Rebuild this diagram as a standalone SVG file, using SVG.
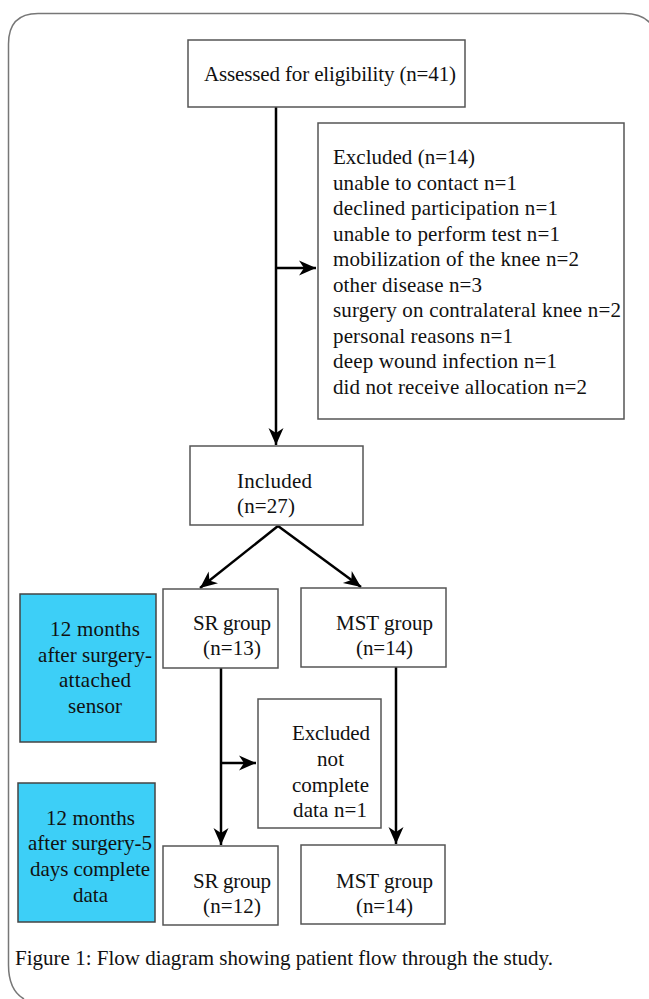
<svg xmlns="http://www.w3.org/2000/svg" width="649" height="999" viewBox="0 0 649 999">
<style>
.box{fill:#fff;stroke:#555;stroke-width:1.5}
.blue{fill:#3dcff7;stroke:#444;stroke-width:1.5}
.t{font-family:"Liberation Serif","Times New Roman",serif;font-size:21px;fill:#111}
.ln{stroke:#000;stroke-width:2.5;fill:none}
</style>
<defs>
<marker id="ah" markerUnits="userSpaceOnUse" markerWidth="20" markerHeight="20" viewBox="-18 -9 20 18" refX="0" refY="0" orient="auto">
<path d="M0,0 L-17,-7.5 L-12,0 L-17,7.5 Z" fill="#000"/>
</marker>
</defs>
<rect width="649" height="999" fill="#fff"/>
<path d="M24,999 Q8.5,990 8.5,965 L8.5,44 Q8.5,13.5 38,13.5 L624,13.5 Q650,13.5 656,34" fill="none" stroke="#777" stroke-width="1.5"/>
<g id="connectors">
<line class="ln" x1="276" y1="107" x2="276" y2="445" marker-end="url(#ah)"/>
<line class="ln" x1="276" y1="268" x2="316" y2="268" marker-end="url(#ah)"/>
<line class="ln" x1="278" y1="526" x2="200" y2="588" marker-end="url(#ah)"/>
<line class="ln" x1="278" y1="526" x2="361" y2="587" marker-end="url(#ah)"/>
<line class="ln" x1="221" y1="668" x2="221" y2="845" marker-end="url(#ah)"/>
<line class="ln" x1="221" y1="763" x2="256" y2="763" marker-end="url(#ah)"/>
<line class="ln" x1="396" y1="667" x2="396" y2="844" marker-end="url(#ah)"/>
</g>
<g id="assessed">
<rect class="box" x="188" y="40" width="277" height="67"/>
<text class="t" x="204" y="81" textLength="252">Assessed for eligibility (n=41)</text>
</g>
<g id="excluded1">
<rect class="box" x="318" y="123" width="306" height="296"/>
<text class="t" x="333" y="164" textLength="142">Excluded (n=14)</text>
<text class="t" x="333" y="189.5" textLength="184">unable to contact n=1</text>
<text class="t" x="333" y="215" textLength="225">declined participation n=1</text>
<text class="t" x="333" y="240.5" textLength="227">unable to perform test n=1</text>
<text class="t" x="333" y="266" textLength="246">mobilization of the knee n=2</text>
<text class="t" x="333" y="291.5" textLength="149">other disease n=3</text>
<text class="t" x="333" y="317" textLength="288">surgery on contralateral knee n=2</text>
<text class="t" x="333" y="342.5" textLength="180">personal reasons n=1</text>
<text class="t" x="333" y="368" textLength="224">deep wound infection n=1</text>
<text class="t" x="333" y="393.5" textLength="254">did not receive allocation n=2</text>
</g>
<g id="included">
<rect class="box" x="190" y="446" width="173" height="79"/>
<text class="t" x="237" y="488" textLength="75">Included</text>
<text class="t" x="237" y="513" textLength="58">(n=27)</text>
</g>
<g id="sr1">
<rect class="box" x="163" y="589" width="115" height="79"/>
<text class="t" x="193" y="630" textLength="78">SR group</text>
<text class="t" x="203" y="655" textLength="58">(n=13)</text>
</g>
<g id="mst1">
<rect class="box" x="301" y="588" width="145" height="79"/>
<text class="t" x="336" y="630" textLength="97">MST group</text>
<text class="t" x="356" y="655" textLength="57">(n=14)</text>
</g>
<g id="blue1">
<rect class="blue" x="20" y="594" width="136" height="148"/>
<text class="t" x="50" y="636" textLength="90">12 months</text>
<text class="t" x="38" y="662" textLength="114">after surgery-</text>
<text class="t" x="59" y="687" textLength="72">attached</text>
<text class="t" x="68" y="713" textLength="54">sensor</text>
</g>
<g id="excluded2">
<rect class="box" x="258" y="699" width="123" height="129"/>
<text class="t" x="292" y="740" textLength="78">Excluded</text>
<text class="t" x="317" y="766" textLength="27">not</text>
<text class="t" x="292" y="792" textLength="77">complete</text>
<text class="t" x="293" y="817" textLength="74">data n=1</text>
</g>
<g id="blue2">
<rect class="blue" x="18" y="783" width="137" height="139"/>
<text class="t" x="46" y="825" textLength="89">12 months</text>
<text class="t" x="28" y="850" textLength="124">after surgery-5</text>
<text class="t" x="30" y="876" textLength="120">days complete</text>
<text class="t" x="73" y="902" textLength="35">data</text>
</g>
<g id="sr2">
<rect class="box" x="163" y="846" width="115" height="79"/>
<text class="t" x="193" y="888" textLength="78">SR group</text>
<text class="t" x="203" y="913" textLength="58">(n=12)</text>
</g>
<g id="mst2">
<rect class="box" x="301" y="845" width="144" height="79"/>
<text class="t" x="336" y="888" textLength="97">MST group</text>
<text class="t" x="356" y="913" textLength="57">(n=14)</text>
</g>
<text id="caption" class="t" x="15" y="965" textLength="538">Figure 1: Flow diagram showing patient flow through the study.</text>
</svg>
